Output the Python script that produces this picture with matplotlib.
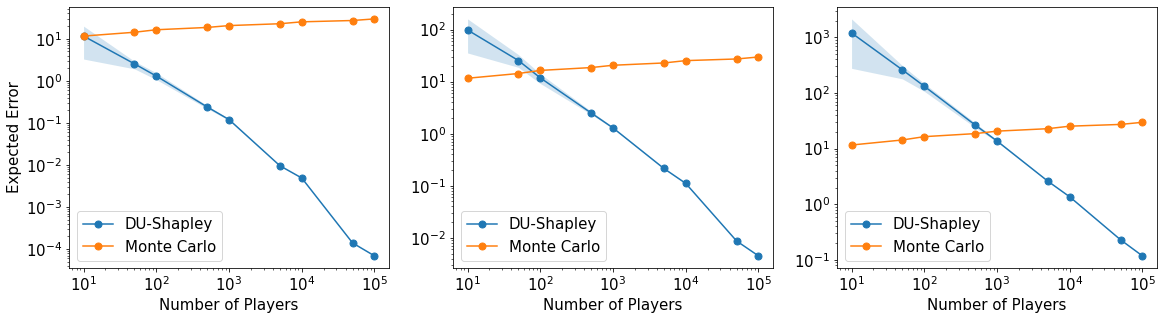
import matplotlib
matplotlib.use("Agg")
import matplotlib.pyplot as plt

# number of players (shared x axis)
players = [10, 50, 100, 500, 1000, 5000, 10000, 50000, 100000]

# monte carlo baseline, same in all three panels
mc = [11.6, 14.3, 16.4, 18.6, 20.6, 22.8, 25.3, 27.2, 29.7]

# DU-Shapley mean and band, panel 1
du1 = [11.6, 2.54, 1.30, 0.24, 0.12, 0.0096, 0.0049, 1.4e-4, 6.9e-5]
du1_lo = [3.3, 1.93, 1.07, 0.22, 0.115, 0.0094, 0.0048, 1.38e-4, 6.8e-5]
du1_hi = [20.0, 2.93, 1.55, 0.26, 0.125, 0.0098, 0.0050, 1.42e-4, 7.0e-5]

# panel 2
du2 = [98.0, 25.4, 11.8, 2.5, 1.29, 0.215, 0.111, 0.0087, 0.0045]
du2_lo = [35.5, 18.8, 9.2, 2.35, 1.25, 0.21, 0.109, 0.0086, 0.00445]
du2_hi = [160.0, 33.0, 14.1, 2.7, 1.34, 0.22, 0.113, 0.0088, 0.00455]

# panel 3
du3 = [1196.0, 260.0, 132.0, 26.6, 13.7, 2.6, 1.36, 0.23, 0.118]
du3_lo = [277.0, 179.0, 107.0, 24.0, 13.2, 2.55, 1.34, 0.227, 0.117]
du3_hi = [2140.0, 310.0, 148.0, 29.0, 14.2, 2.65, 1.38, 0.233, 0.119]

plt.rcParams['font.size'] = 15

# rendered at 72 dpi like the original
fig, axes = plt.subplots(1, 3, figsize=(1164 / 72, 320 / 72), dpi=72)
fig.subplots_adjust(left=0.0593, right=0.994, top=0.978, bottom=0.1625, wspace=0.2)

panels = [(du1, du1_lo, du1_hi), (du2, du2_lo, du2_hi), (du3, du3_lo, du3_hi)]
for ax, (du, lo, hi) in zip(axes, panels):
    ax.plot(players, du, marker='o', markersize=7, color='C0', label='DU-Shapley')
    ax.fill_between(players, lo, hi, color='C0', alpha=0.2, linewidth=0)
    ax.plot(players, mc, marker='o', markersize=7, color='C1', label='Monte Carlo')
    ax.set_xscale('log')
    ax.set_yscale('log')
    ax.set_xlabel('Number of Players')
    ax.legend(loc='lower left')

axes[0].set_ylabel('Expected Error')

fig.savefig('out.png', dpi=72)
